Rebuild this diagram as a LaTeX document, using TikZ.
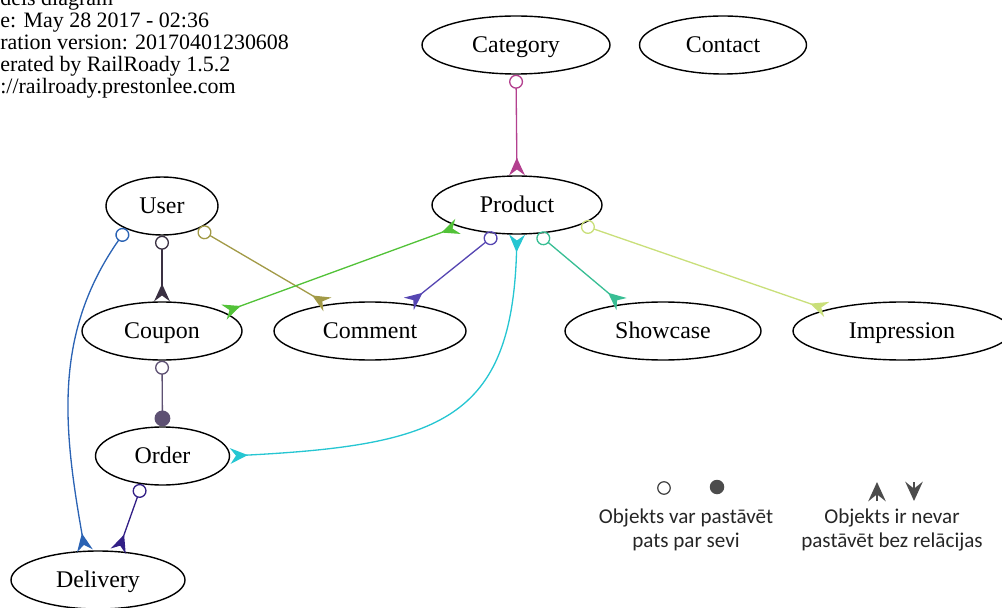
\documentclass[tikz,border=0pt]{standalone}
\usepackage{fontspec}
\setmainfont{Liberation Serif}
\newfontfamily\legendfont{Carlito}
\usepackage{xcolor}
\usepackage{tikz}
\usetikzlibrary{arrows.meta, shapes.geometric}
\definecolor{catcol}{HTML}{B3408F}
\definecolor{usercol}{HTML}{3A3042}
\definecolor{olivecol}{HTML}{A29A47}
\definecolor{bluecol}{HTML}{2B63B4}
\definecolor{greencol}{HTML}{52C238}
\definecolor{violetcol}{HTML}{5646B2}
\definecolor{cyancol}{HTML}{26C6D2}
\definecolor{tealcol}{HTML}{38BE94}
\definecolor{limecol}{HTML}{C9DF7A}
\definecolor{ordercol}{HTML}{5E5173}
\definecolor{indigocol}{HTML}{321F86}
\tikzset{
    model/.style = {ellipse, draw=black, line width=0.8pt, inner sep=0pt,
        minimum height=1.16cm, text height=0.85em, text depth=0em,
        font=\fontsize{13.6}{16}\selectfont},
    rel/.style = {line width=0.75pt},
    legendtext/.style = {align=center, text=black!85,
        font=\legendfont\fontsize{12}{13.7}\selectfont},
    legendmark/.style = {line width=1pt, black!70},
    crowfoot/.tip = {Stealth[reversed, length=10pt, width=9pt, inset=3.3pt]},
    opendot/.tip = {Circle[open, length=8pt, width=8pt]},
    fulldot/.tip = {Circle[length=9pt, width=9pt]},
}

\begin{document}
\begin{tikzpicture}
            \useasboundingbox (0,0) rectangle (20.04,-12.16);
            % header text
            \node (info) [anchor=north west, inner sep=0pt, align=left,
                font=\fontsize{12.5}{12.5}\selectfont] at (0,0.20)
                {dels diagram\\e: May 28 2017 - 02:36\\ration version: 20170401230608\\erated by RailRoady 1.5.2\\://railroady.prestonlee.com};
            % models
            \node (category) [model, minimum width=3.76cm] at (10.32,-0.90) {Category};
            \node (contact) [model, minimum width=3.34cm] at (14.46,-0.90) {Contact};
            \node (product) [model, minimum width=3.40cm] at (10.34,-4.10) {Product};
            \node (user) [model, minimum width=2.24cm] at (3.24,-4.12) {User};
            \node (coupon) [model, minimum width=3.20cm] at (3.24,-6.62) {Coupon};
            \node (comment) [model, minimum width=3.84cm] at (7.40,-6.62) {Comment};
            \node (showcase) [model, minimum width=3.92cm] at (13.26,-6.62) {Showcase};
            \node (impression) [model, minimum width=4.36cm] at (18.04,-6.62) {Impression};
            \node (order) [model, minimum width=2.68cm] at (3.25,-9.12) {Order};
            \node (delivery) [model, minimum width=3.48cm] at (1.96,-11.60) {Delivery};
            % relations
            \draw[rel, catcol, opendot-crowfoot] (category.south) -- (product.north);
            \draw[rel, usercol, opendot-crowfoot] (user.south) -- (coupon.north);
            \draw[rel, olivecol, opendot-crowfoot] (user.-32) -- (comment.148);
            \draw[rel, bluecol, opendot-crowfoot] (user.-147) to[out=-125, in=100] (delivery.114);
            \draw[rel, greencol, crowfoot-crowfoot] (product.-160) -- (coupon.17);
            \draw[rel, violetcol, opendot-crowfoot] (product.-126) -- (comment.35);
            \draw[rel, cyancol, crowfoot-crowfoot] (product.south) .. controls (10.24,-8.4) and (8.8,-8.9) .. (order.east);
            \draw[rel, tealcol, opendot-crowfoot] (product.-54) -- (showcase.147);
            \draw[rel, limecol, opendot-crowfoot] (product.-17) -- (impression.164);
            \draw[rel, ordercol, opendot-fulldot] (coupon.south) -- (order.north);
            \draw[rel, indigocol, opendot-crowfoot] (order.-126) -- (delivery.55);
            % legend
            \node (freesym) [circle, draw=black!75, line width=0.7pt, inner sep=0pt, minimum size=0.25cm] at (13.28,-9.76) {};
            \node (boundsym) [circle, fill=black!70, inner sep=0pt, minimum size=0.29cm] at (14.34,-9.74) {};
            \coordinate (upbot) at (17.54,-10.02);
            \coordinate (uptop) at (17.54,-9.64);
            \coordinate (downtop) at (18.28,-9.64);
            \coordinate (downbot) at (18.28,-10.02);
            \draw[legendmark, -{Stealth[length=11pt, width=10pt, inset=4pt]}] (upbot) -- (uptop);
            \draw[legendmark, -{Stealth[length=11pt, width=10pt, inset=4pt]}] (downtop) -- (downbot);
            \node (freetext) [legendtext] at (13.72,-10.60) {Objekts var pastāvēt\\pats par sevi};
            \node (boundtext) [legendtext] at (17.84,-10.60) {Objekts ir nevar\\pastāvēt bez relācijas};
            \end{tikzpicture}
\end{document}
